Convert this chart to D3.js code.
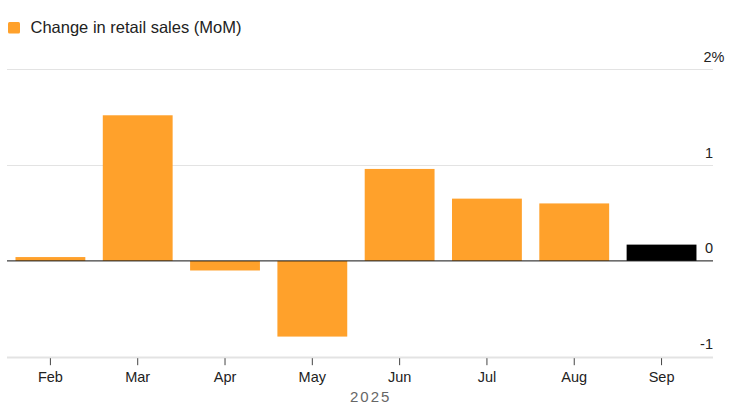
<!DOCTYPE html>
<html>
<head>
<meta charset="utf-8">
<script src="https://cdn.jsdelivr.net/npm/d3@7"></script>
<style>
  html, body { margin: 0; padding: 0; background: #fff; }
  svg { display: block; font-family: "Liberation Sans", Arial, Helvetica, sans-serif; }
</style>
</head>
<body>
<svg id="chart" width="737" height="417"></svg>
<script>
const months = ["Feb", "Mar", "Apr", "May", "Jun", "Jul", "Aug", "Sep"];
const values = [0.04, 1.52, -0.1, -0.79, 0.96, 0.65, 0.6, 0.17];
const highlight = [false, false, false, false, false, false, false, true];
const yTicks = [-1, 0, 1, 2];
const yTickLabels = ["-1", "0", "1", "2%"];
const legendLabel = "Change in retail sales (MoM)";
const yearLabel = "2025";

const svg = d3.select("#chart");
const left = 6.75, right = 705.2, gridRight = 713;

const x = d3.scaleBand().domain(months).range([left, right]).paddingInner(0.2).paddingOuter(0.1);
const y = d3.scaleLinear().domain([-1, 2]).range([356.7, 69.3]);

// gridlines
svg.append("g").selectAll("line").data(yTicks.filter(d => d !== 0)).join("line")
  .attr("x1", 7).attr("x2", gridRight)
  .attr("y1", d => Math.round(y(d)) + 0.5).attr("y2", d => Math.round(y(d)) + 0.5)
  .attr("stroke", "#e3e3e3")
  .attr("stroke-width", d => d === -1 ? 2 : 1.2);

// y labels
const yFont = 14.5;
svg.append("g").selectAll("text").data(yTicks).join("text")
  .attr("x", gridRight)
  .attr("y", d => y(d) - 7.5)
  .attr("font-size", yFont)
  .attr("fill", "#222")
  .attr("text-anchor", "end")
  .each(function(d, i) {
    const t = d3.select(this);
    const lbl = yTickLabels[i];
    t.text(lbl);
    if (lbl.endsWith("%")) {
      const tmp = svg.append("text").attr("font-size", yFont).text(lbl.slice(0, -1));
      const wNum = tmp.node().getComputedTextLength();
      tmp.remove();
      t.attr("text-anchor", "start").attr("x", gridRight - wNum - 1.5);
    }
  });

// bars
svg.append("g").selectAll("rect").data(months).join("rect")
  .attr("x", d => x(d))
  .attr("width", x.bandwidth())
  .attr("y", (d, i) => y(Math.max(0, values[i])))
  .attr("height", (d, i) => Math.abs(y(values[i]) - y(0)))
  .attr("fill", (d, i) => highlight[i] ? "#000" : "#ffa12b");

// zero line
svg.append("line")
  .attr("x1", 7).attr("x2", gridRight)
  .attr("y1", y(0)).attr("y2", y(0))
  .attr("stroke", "#111").attr("stroke-width", 1);

// x axis
const xAxis = d3.axisBottom(x).tickSize(7).tickPadding(7);
const gx = svg.append("g").attr("transform", `translate(0,${y(-1) + 1.5})`).call(xAxis);
gx.select(".domain").remove();
gx.selectAll(".tick line").attr("stroke", "#444");
gx.selectAll(".tick text").attr("font-size", 14.5).attr("fill", "#222")
  .attr("font-family", "Liberation Sans, Arial, sans-serif");

// year label
svg.append("text")
  .attr("x", 370.7).attr("y", 402)
  .attr("text-anchor", "middle")
  .attr("font-size", 15)
  .attr("letter-spacing", 2)
  .attr("fill", "#666")
  .text(yearLabel);

// legend
svg.append("rect").attr("x", 8).attr("y", 22).attr("width", 12).attr("height", 11.5).attr("rx", 1.5)
  .attr("fill", "#ffa12b");
svg.append("text").attr("x", 30.5).attr("y", 32.5)
  .attr("font-size", 16.5).attr("fill", "#222")
  .text(legendLabel);
</script>
</body>
</html>
